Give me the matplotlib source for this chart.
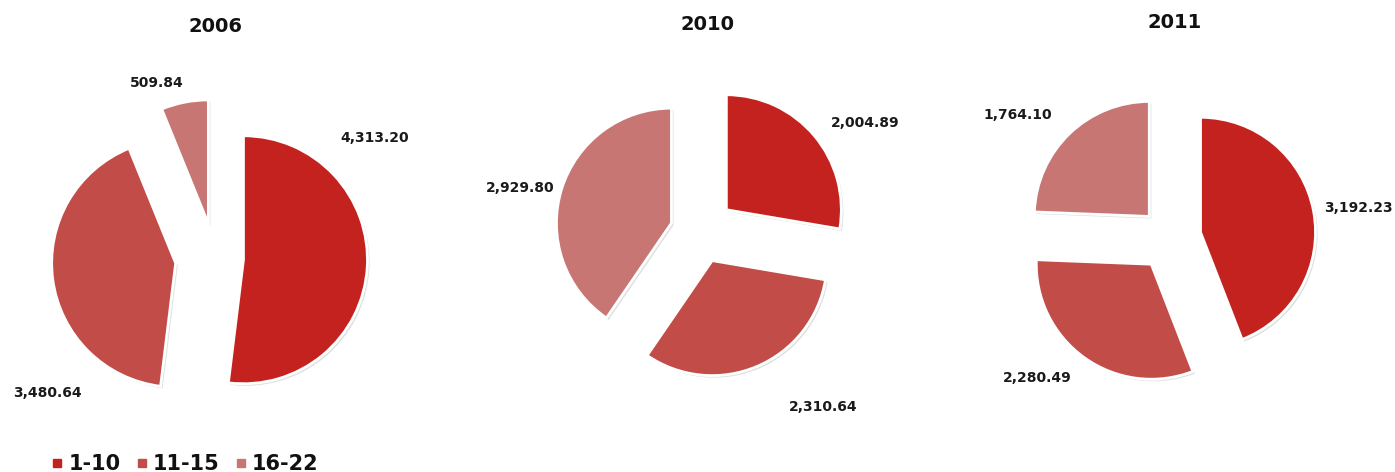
import numpy as np
import matplotlib
matplotlib.use("Agg")
import matplotlib.pyplot as plt
import matplotlib.patheffects as pe
from matplotlib.lines import Line2D

years = ["2006", "2010", "2011"]
groups = ["1-10", "11-15", "16-22"]
v2006 = [4313.20, 3480.64, 509.84]
v2010 = [2004.89, 2310.64, 2929.80]
v2011 = [3192.23, 2280.49, 1764.10]
colors = ["#C3221E", "#C24C48", "#C77673"]

W, H = 1395, 472
# pie layout in pixels: centre x, centre y (from top), radius, explode as fraction of radius
layout = {
    "2006": dict(c=(215, 258), r=124, ex=[0.23, 0.32, 0.28], title=(216, 26),
                 lab=[(375, 138), (47, 393), (157, 83)]),
    "2010": dict(c=(700, 232), r=115, ex=[0.30, 0.27, 0.26], title=(707, 24),
                 lab=[(865, 123), (823, 407), (520, 188)]),
    "2011": dict(c=(1170, 238), r=115, ex=[0.27, 0.28, 0.26], title=(1175, 22),
                 lab=[(1358, 208), (1037, 378), (1018, 115)]),
}
data = {"2006": v2006, "2010": v2010, "2011": v2011}

fig = plt.figure(figsize=(W / 100, H / 100), dpi=100)
ax = fig.add_axes([0, 0, 1, 1])

shadow = [pe.SimplePatchShadow(offset=(1.5, -1.5), shadow_rgbFace="#b8c4c4", alpha=0.5),
          pe.Normal()]

for yr in years:
    L = layout[yr]
    vals = data[yr]
    cx, cy = L["c"]
    # pie() takes explode in data units, so scale by the radius
    ax.pie(vals, colors=colors, startangle=90, counterclock=False,
           center=(cx, H - cy), radius=L["r"],
           explode=[e * L["r"] for e in L["ex"]],
           wedgeprops=dict(edgecolor="white", linewidth=2, path_effects=shadow))
    tx, ty = L["title"]
    ax.text(tx, H - ty, yr, ha="center", va="center", fontsize=14,
            fontweight="bold", color="#111111")
    for v, (lx, ly) in zip(vals, L["lab"]):
        ax.text(lx, H - ly, f"{v:,.2f}", ha="center", va="center", fontsize=10,
                fontweight="bold", color="#1a1a1a")

ax.set_xlim(0, W)
ax.set_ylim(0, H)
ax.set_aspect("equal")
ax.axis("off")

handles = [Line2D([], [], marker="s", linestyle="none", markersize=5.5, color=c)
           for c in colors]
leg = fig.legend(handles, groups, loc="center left", bbox_to_anchor=(0.029, 0.016),
                 ncol=3, frameon=False, handlelength=0.6, handletextpad=0.25,
                 columnspacing=0.7, borderpad=0.0, prop=dict(size=15, weight="bold"))
for t in leg.get_texts():
    t.set_color("#111111")

fig.savefig("out.png", dpi=100, facecolor="white")
